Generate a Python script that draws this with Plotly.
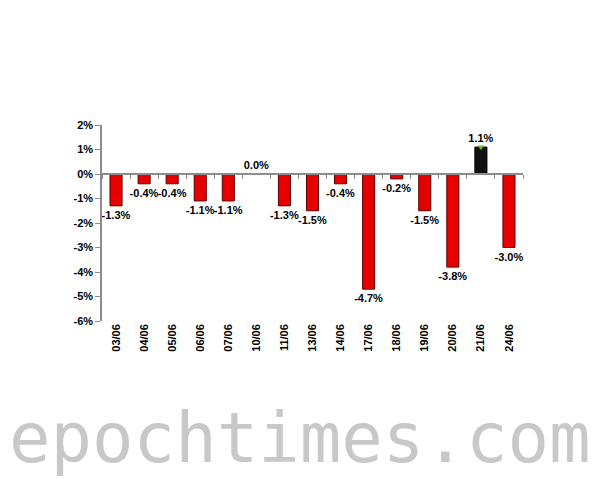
import plotly.graph_objects as go

dates = ["03/06", "04/06", "05/06", "06/06", "07/06", "10/06", "11/06", "13/06",
         "14/06", "17/06", "18/06", "19/06", "20/06", "21/06", "24/06"]
changes = [-1.3, -0.4, -0.4, -1.1, -1.1, 0.0, -1.3, -1.5,
           -0.4, -4.7, -0.2, -1.5, -3.8, 1.1, -3.0]
labels = [f"<b>{v:.1f}%</b>" for v in changes]
y_ticks = [2, 1, 0, -1, -2, -3, -4, -5, -6]
y_tick_text = [f"<b>{t}%</b>" for t in y_ticks]
x_tick_text = [f"<b>{d}</b>" for d in dates]
y_range = [-6, 2]

fill = ["#111111" if v > 0 else "#e60000" for v in changes]
edge = ["#000000" if v > 0 else "#5a0000" for v in changes]

fig = go.Figure()
fig.add_trace(go.Bar(
    x=dates, y=changes, text=labels, textposition="outside", constraintext="none",
    textfont=dict(family="Liberation Sans", size=11, color="#000000"),
    marker=dict(color=fill, line=dict(color=edge, width=1)),
    cliponaxis=False, width=0.43, showlegend=False,
))
pos = [(d, v) for d, v in zip(dates, changes) if v > 0]
fig.add_trace(go.Scatter(
    x=[p[0] for p in pos], y=[p[1] for p in pos], mode="markers",
    marker=dict(symbol="triangle-down", size=6, color="#66bb33"),
    showlegend=False, hoverinfo="skip", cliponaxis=False,
))
fig.add_trace(go.Scatter(x=dates, y=[None] * len(dates), xaxis="x2", showlegend=False,
                         hoverinfo="skip"))

zero_pos = (0 - y_range[0]) / (y_range[1] - y_range[0])
tick_font = dict(family="Liberation Sans", size=11, color="#000000")

W, H = 592, 471
L, T, PW, PH = 94, 117, 421, 196

fig.update_layout(
    width=W, height=H,
    paper_bgcolor="white", plot_bgcolor="white",
    margin=dict(l=L, r=W - L - PW, t=T, b=H - T - PH),
    bargap=0.57,
    xaxis=dict(categoryorder="array", categoryarray=dates, tickangle=-90,
               tickvals=dates, ticktext=x_tick_text,
               showline=False, ticks="", showgrid=False, tickfont=tick_font,
               range=[-0.5, len(dates) - 0.5]),
    xaxis2=dict(overlaying="x", anchor="free", position=zero_pos, matches="x",
                categoryorder="array", categoryarray=dates,
                showline=True, linecolor="#8c8c8c", linewidth=1.5,
                ticks="outside", ticklen=4, tickcolor="#8c8c8c", tickson="boundaries",
                showticklabels=False, showgrid=False, range=[-0.5, len(dates) - 0.5]),
    yaxis=dict(range=y_range, tickvals=y_ticks, ticktext=y_tick_text,
               showline=True, linecolor="#8c8c8c", linewidth=1.5,
               ticks="outside", ticklen=5, tickcolor="#8c8c8c",
               showgrid=False, zeroline=False, tickfont=tick_font),
    annotations=[dict(
        text="epochtimes.com", xref="paper", yref="paper",
        x=(292 - L) / PW, y=-(438 - 8 - (T + PH)) / PH,
        xanchor="center", yanchor="middle", showarrow=False,
        font=dict(family="DejaVu Sans Mono", size=69, color="#c8c8c8"),
    )],
)

fig.write_html("out.html")
